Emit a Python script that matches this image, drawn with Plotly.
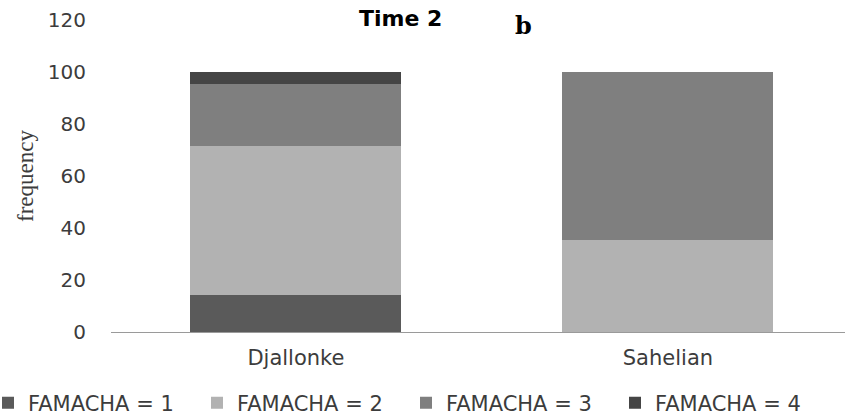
import plotly.graph_objects as go

categories = ["Djallonke", "Sahelian"]
series_names = ["FAMACHA = 1", "FAMACHA = 2", "FAMACHA = 3", "FAMACHA = 4"]
famacha1 = [14.3, 0]
famacha2 = [57.1, 35.3]
famacha3 = [23.8, 64.7]
famacha4 = [4.8, 0]
colors = ["#5a5a5a", "#b2b2b2", "#7f7f7f", "#454545"]
y_ticks = [0, 20, 40, 60, 80, 100, 120]

W, H = 845, 416
ML, MR, MT, MB = 111, 0, 20, 84
plot_w = W - ML - MR
plot_h = H - MT - MB


def px_x(x):
    return (x - ML) / plot_w


def px_y(y):
    return (H - MB - y) / plot_h


fig = go.Figure()
for name, vals, col in zip(series_names, [famacha1, famacha2, famacha3, famacha4], colors):
    fig.add_trace(go.Bar(x=categories, y=vals, name=name, width=0.567,
                         marker=dict(color=col, line=dict(width=0))))

TXT = "#3c3c3c"
fig.update_layout(
    barmode="stack",
    width=W, height=H,
    margin=dict(l=ML, r=MR, t=MT, b=MB, autoexpand=False),
    plot_bgcolor="white", paper_bgcolor="white",
    font=dict(family="DejaVu Sans", size=19, color=TXT),
    showlegend=True,
    legend=dict(orientation="h", x=px_x(-12), xanchor="left", y=px_y(403), yanchor="middle",
                entrywidth=164, entrywidthmode="pixels", itemwidth=30,
                font=dict(family="DejaVu Sans", size=21, color=TXT),
                traceorder="normal", bgcolor="rgba(0,0,0,0)"),
    xaxis=dict(range=[-0.497, 1.476], showline=True, linecolor="#9a9a9a", linewidth=1, ticks="",
               ticklabelstandoff=7,
               tickfont=dict(family="DejaVu Sans", size=21, color=TXT)),
    yaxis=dict(range=[0, 120], tickvals=y_ticks, showgrid=False, zeroline=False,
               showline=False, ticks="", ticklabelstandoff=24,
               tickfont=dict(family="DejaVu Sans", size=20, color=TXT),
               title=dict(text="frequency", font=dict(family="Liberation Serif", size=23, color=TXT),
                          standoff=7)),
    annotations=[
        dict(text="<b>Time 2</b>", x=px_x(400), y=px_y(18), xref="paper", yref="paper",
             xanchor="center", yanchor="middle",
             showarrow=False, font=dict(family="DejaVu Sans", size=22, color="black")),
        dict(text="<b>b</b>", x=px_x(523), y=px_y(25), xref="paper", yref="paper",
             xanchor="center", yanchor="middle",
             showarrow=False, font=dict(family="DejaVu Serif", size=24, color="black")),
    ],
)

fig.write_html("out.html", config={"displayModeBar": False},
               post_script="document.body.style.margin='0';document.body.style.padding='0';")
